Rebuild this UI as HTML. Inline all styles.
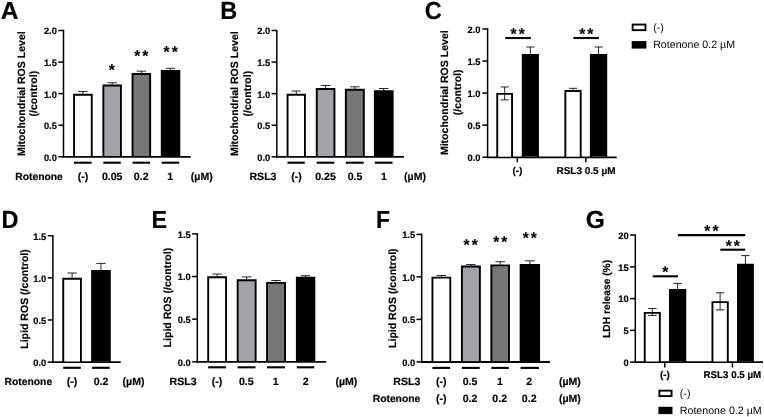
<!DOCTYPE html>
<html><head><meta charset="utf-8"><title>Figure</title>
<style>
html,body{margin:0;padding:0;background:#fff;}
svg{display:block;}
text{text-rendering:geometricPrecision;stroke:#000;stroke-width:0.18px;font-family:"Liberation Sans",sans-serif;fill:#000;}
</style></head><body>
<svg width="764" height="417" viewBox="0 0 764 417">
<rect width="764" height="417" fill="#fff"/>
<text transform="translate(0.80,18.60) scale(1.0,1.0)" font-size="24.6" font-weight="bold">A</text>
<text transform="translate(220.30,18.50) scale(0.955,1.01)" font-size="24.6" font-weight="bold">B</text>
<text transform="translate(424.80,18.50) scale(0.955,1.0)" font-size="24.6" font-weight="bold">C</text>
<text transform="translate(1.50,228.00) scale(0.955,1.01)" font-size="24.6" font-weight="bold">D</text>
<text transform="translate(151.60,228.30) scale(0.95,1.0)" font-size="24.6" font-weight="bold">E</text>
<text transform="translate(375.90,227.90) scale(0.93,1.0)" font-size="24.6" font-weight="bold">F</text>
<text transform="translate(585.70,227.70) scale(1.0,1.0)" font-size="24.6" font-weight="bold">G</text>
<line x1="63.50" y1="29.75" x2="63.50" y2="157.55" stroke="#000" stroke-width="1.5"/>
<line x1="62.75" y1="156.90" x2="190.70" y2="156.90" stroke="#000" stroke-width="1.8"/>
<line x1="58.30" y1="30.50" x2="63.50" y2="30.50" stroke="#000" stroke-width="1.5"/>
<text x="56.90" y="34.35" font-size="9.3" font-weight="bold" text-anchor="end">2.0</text>
<line x1="58.30" y1="62.08" x2="63.50" y2="62.08" stroke="#000" stroke-width="1.5"/>
<text x="56.90" y="65.92" font-size="9.3" font-weight="bold" text-anchor="end">1.5</text>
<line x1="58.30" y1="93.65" x2="63.50" y2="93.65" stroke="#000" stroke-width="1.5"/>
<text x="56.90" y="97.50" font-size="9.3" font-weight="bold" text-anchor="end">1.0</text>
<line x1="58.30" y1="125.23" x2="63.50" y2="125.23" stroke="#000" stroke-width="1.5"/>
<text x="56.90" y="129.07" font-size="9.3" font-weight="bold" text-anchor="end">0.5</text>
<line x1="58.30" y1="156.80" x2="63.50" y2="156.80" stroke="#000" stroke-width="1.5"/>
<text x="56.90" y="160.65" font-size="9.3" font-weight="bold" text-anchor="end">0.0</text>
<text transform="translate(25.20,93.70) rotate(-90)" font-size="10.55" font-weight="bold" text-anchor="middle">Mitochondrial ROS Level</text>
<text transform="translate(37.30,93.70) rotate(-90)" font-size="10.55" font-weight="bold" text-anchor="middle">(/control)</text>
<line x1="82.90" y1="91.49" x2="82.90" y2="94.79" stroke="#000" stroke-width="0.85"/>
<line x1="78.20" y1="91.49" x2="87.60" y2="91.49" stroke="#000" stroke-width="0.85"/>
<rect x="74.05" y="94.79" width="17.70" height="61.26" fill="#ffffff"/>
<path d="M74.05 156.80V94.79H91.75V156.80" fill="none" stroke="#000" stroke-width="1.9"/>
<line x1="74.00" y1="162.70" x2="91.60" y2="162.70" stroke="#000" stroke-width="2.1"/>
<line x1="112.15" y1="82.74" x2="112.15" y2="85.44" stroke="#000" stroke-width="0.85"/>
<line x1="107.47" y1="82.74" x2="116.83" y2="82.74" stroke="#000" stroke-width="0.85"/>
<rect x="103.35" y="85.44" width="17.60" height="70.61" fill="#a3a2a7"/>
<path d="M103.35 156.80V85.44H120.95V156.80" fill="none" stroke="#000" stroke-width="1.9"/>
<line x1="103.30" y1="162.70" x2="120.80" y2="162.70" stroke="#000" stroke-width="2.1"/>
<line x1="141.35" y1="71.17" x2="141.35" y2="74.07" stroke="#000" stroke-width="0.85"/>
<line x1="136.67" y1="71.17" x2="146.03" y2="71.17" stroke="#000" stroke-width="0.85"/>
<rect x="132.55" y="74.07" width="17.60" height="81.98" fill="#767676"/>
<path d="M132.55 156.80V74.07H150.15V156.80" fill="none" stroke="#000" stroke-width="1.9"/>
<line x1="132.50" y1="162.70" x2="150.00" y2="162.70" stroke="#000" stroke-width="2.1"/>
<line x1="170.55" y1="68.32" x2="170.55" y2="70.92" stroke="#000" stroke-width="0.85"/>
<line x1="165.87" y1="68.32" x2="175.23" y2="68.32" stroke="#000" stroke-width="0.85"/>
<rect x="161.75" y="70.92" width="17.60" height="85.13" fill="#000000"/>
<path d="M161.75 156.80V70.92H179.35V156.80" fill="none" stroke="#000" stroke-width="1.9"/>
<line x1="161.70" y1="162.70" x2="179.20" y2="162.70" stroke="#000" stroke-width="2.1"/>
<text x="111.75" y="74.62" font-size="15.5" font-weight="bold" text-anchor="middle">*</text>
<text x="142.31" y="60.62" font-size="15.5" font-weight="bold" text-anchor="middle" letter-spacing="2.12">**</text>
<text x="171.66" y="57.37" font-size="15.5" font-weight="bold" text-anchor="middle" letter-spacing="2.12">**</text>
<text x="15.20" y="179.50" font-size="10.339" font-weight="bold" text-anchor="start">Rotenone</text>
<text x="83.00" y="179.50" font-size="10.55" font-weight="bold" text-anchor="middle">(-)</text>
<text x="112.20" y="179.50" font-size="10.55" font-weight="bold" text-anchor="middle">0.05</text>
<text x="141.20" y="179.50" font-size="10.55" font-weight="bold" text-anchor="middle">0.2</text>
<text x="170.30" y="179.50" font-size="10.55" font-weight="bold" text-anchor="middle">1</text>
<text x="201.80" y="179.50" font-size="10.55" font-weight="bold" text-anchor="middle">(µM)</text>
<line x1="276.80" y1="29.75" x2="276.80" y2="157.55" stroke="#000" stroke-width="1.5"/>
<line x1="276.05" y1="156.90" x2="403.90" y2="156.90" stroke="#000" stroke-width="1.8"/>
<line x1="271.60" y1="30.50" x2="276.80" y2="30.50" stroke="#000" stroke-width="1.5"/>
<text x="270.20" y="34.35" font-size="9.3" font-weight="bold" text-anchor="end">2.0</text>
<line x1="271.60" y1="62.08" x2="276.80" y2="62.08" stroke="#000" stroke-width="1.5"/>
<text x="270.20" y="65.92" font-size="9.3" font-weight="bold" text-anchor="end">1.5</text>
<line x1="271.60" y1="93.65" x2="276.80" y2="93.65" stroke="#000" stroke-width="1.5"/>
<text x="270.20" y="97.50" font-size="9.3" font-weight="bold" text-anchor="end">1.0</text>
<line x1="271.60" y1="125.23" x2="276.80" y2="125.23" stroke="#000" stroke-width="1.5"/>
<text x="270.20" y="129.07" font-size="9.3" font-weight="bold" text-anchor="end">0.5</text>
<line x1="271.60" y1="156.80" x2="276.80" y2="156.80" stroke="#000" stroke-width="1.5"/>
<text x="270.20" y="160.65" font-size="9.3" font-weight="bold" text-anchor="end">0.0</text>
<text transform="translate(238.40,93.70) rotate(-90)" font-size="10.55" font-weight="bold" text-anchor="middle">Mitochondrial ROS Level</text>
<text transform="translate(250.50,93.70) rotate(-90)" font-size="10.55" font-weight="bold" text-anchor="middle">(/control)</text>
<line x1="296.25" y1="90.99" x2="296.25" y2="94.79" stroke="#000" stroke-width="0.85"/>
<line x1="291.62" y1="90.99" x2="300.88" y2="90.99" stroke="#000" stroke-width="0.85"/>
<rect x="287.55" y="94.79" width="17.40" height="61.26" fill="#ffffff"/>
<path d="M287.55 156.80V94.79H304.95V156.80" fill="none" stroke="#000" stroke-width="1.9"/>
<line x1="287.50" y1="162.70" x2="304.80" y2="162.70" stroke="#000" stroke-width="2.1"/>
<line x1="325.60" y1="85.50" x2="325.60" y2="88.95" stroke="#000" stroke-width="0.85"/>
<line x1="320.90" y1="85.50" x2="330.30" y2="85.50" stroke="#000" stroke-width="0.85"/>
<rect x="316.75" y="88.95" width="17.70" height="67.10" fill="#a3a2a7"/>
<path d="M316.75 156.80V88.95H334.45V156.80" fill="none" stroke="#000" stroke-width="1.9"/>
<line x1="316.70" y1="162.70" x2="334.30" y2="162.70" stroke="#000" stroke-width="2.1"/>
<line x1="354.85" y1="86.80" x2="354.85" y2="89.75" stroke="#000" stroke-width="0.85"/>
<line x1="350.07" y1="86.80" x2="359.63" y2="86.80" stroke="#000" stroke-width="0.85"/>
<rect x="345.85" y="89.75" width="18.00" height="66.30" fill="#767676"/>
<path d="M345.85 156.80V89.75H363.85V156.80" fill="none" stroke="#000" stroke-width="1.9"/>
<line x1="345.80" y1="162.70" x2="363.70" y2="162.70" stroke="#000" stroke-width="2.1"/>
<line x1="383.75" y1="88.50" x2="383.75" y2="91.15" stroke="#000" stroke-width="0.85"/>
<line x1="379.02" y1="88.50" x2="388.48" y2="88.50" stroke="#000" stroke-width="0.85"/>
<rect x="374.85" y="91.15" width="17.80" height="64.90" fill="#000000"/>
<path d="M374.85 156.80V91.15H392.65V156.80" fill="none" stroke="#000" stroke-width="1.9"/>
<line x1="374.80" y1="162.70" x2="392.50" y2="162.70" stroke="#000" stroke-width="2.1"/>
<text x="249.50" y="179.50" font-size="10.55" font-weight="bold" text-anchor="start">RSL3</text>
<text x="296.50" y="179.50" font-size="10.55" font-weight="bold" text-anchor="middle">(-)</text>
<text x="325.50" y="179.50" font-size="10.55" font-weight="bold" text-anchor="middle">0.25</text>
<text x="355.00" y="179.50" font-size="10.55" font-weight="bold" text-anchor="middle">0.5</text>
<text x="384.00" y="179.50" font-size="10.55" font-weight="bold" text-anchor="middle">1</text>
<text x="415.00" y="179.50" font-size="10.55" font-weight="bold" text-anchor="middle">(µM)</text>
<line x1="487.60" y1="28.25" x2="487.60" y2="157.95" stroke="#000" stroke-width="1.5"/>
<line x1="486.85" y1="157.30" x2="616.70" y2="157.30" stroke="#000" stroke-width="1.8"/>
<line x1="482.40" y1="29.00" x2="487.60" y2="29.00" stroke="#000" stroke-width="1.5"/>
<text x="480.50" y="33.00" font-size="9.3" font-weight="bold" text-anchor="end">2.0</text>
<line x1="482.40" y1="61.05" x2="487.60" y2="61.05" stroke="#000" stroke-width="1.5"/>
<text x="480.50" y="65.05" font-size="9.3" font-weight="bold" text-anchor="end">1.5</text>
<line x1="482.40" y1="93.10" x2="487.60" y2="93.10" stroke="#000" stroke-width="1.5"/>
<text x="480.50" y="97.10" font-size="9.3" font-weight="bold" text-anchor="end">1.0</text>
<line x1="482.40" y1="125.15" x2="487.60" y2="125.15" stroke="#000" stroke-width="1.5"/>
<text x="480.50" y="129.15" font-size="9.3" font-weight="bold" text-anchor="end">0.5</text>
<line x1="482.40" y1="157.20" x2="487.60" y2="157.20" stroke="#000" stroke-width="1.5"/>
<text x="480.50" y="161.20" font-size="9.3" font-weight="bold" text-anchor="end">0.0</text>
<text transform="translate(447.60,92.70) rotate(-90)" font-size="10.55" font-weight="bold" text-anchor="middle">Mitochondrial ROS Level</text>
<text transform="translate(461.30,92.30) rotate(-90)" font-size="10.55" font-weight="bold" text-anchor="middle">(/control)</text>
<line x1="504.65" y1="86.97" x2="504.65" y2="93.87" stroke="#000" stroke-width="0.85"/>
<line x1="500.64" y1="86.97" x2="508.66" y2="86.97" stroke="#000" stroke-width="0.85"/>
<rect x="497.25" y="93.87" width="14.80" height="62.58" fill="#ffffff"/>
<path d="M497.25 157.20V93.87H512.05V157.20" fill="none" stroke="#000" stroke-width="1.9"/>
<line x1="504.65" y1="93.87" x2="504.65" y2="99.87" stroke="#000" stroke-width="0.85"/>
<line x1="500.64" y1="99.87" x2="508.66" y2="99.87" stroke="#000" stroke-width="0.85"/>
<line x1="530.35" y1="47.00" x2="530.35" y2="54.90" stroke="#000" stroke-width="0.85"/>
<line x1="526.25" y1="47.00" x2="534.45" y2="47.00" stroke="#000" stroke-width="0.85"/>
<rect x="522.75" y="54.90" width="15.20" height="101.55" fill="#000000"/>
<path d="M522.75 157.20V54.90H537.95V157.20" fill="none" stroke="#000" stroke-width="1.9"/>
<line x1="573.02" y1="88.30" x2="573.02" y2="90.95" stroke="#000" stroke-width="0.85"/>
<line x1="568.88" y1="88.30" x2="577.16" y2="88.30" stroke="#000" stroke-width="0.85"/>
<rect x="565.35" y="90.95" width="15.35" height="65.50" fill="#ffffff"/>
<path d="M565.35 157.20V90.95H580.70V157.20" fill="none" stroke="#000" stroke-width="1.9"/>
<line x1="598.55" y1="47.00" x2="598.55" y2="54.90" stroke="#000" stroke-width="0.85"/>
<line x1="594.40" y1="47.00" x2="602.70" y2="47.00" stroke="#000" stroke-width="0.85"/>
<rect x="590.85" y="54.90" width="15.40" height="101.55" fill="#000000"/>
<path d="M590.85 157.20V54.90H606.25V157.20" fill="none" stroke="#000" stroke-width="1.9"/>
<line x1="505.30" y1="38.00" x2="530.80" y2="38.00" stroke="#000" stroke-width="2.1"/>
<text x="518.76" y="39.32" font-size="15.5" font-weight="bold" text-anchor="middle" letter-spacing="2.12">**</text>
<line x1="573.40" y1="38.00" x2="598.90" y2="38.00" stroke="#000" stroke-width="2.1"/>
<text x="587.36" y="39.32" font-size="15.5" font-weight="bold" text-anchor="middle" letter-spacing="2.12">**</text>
<line x1="517.30" y1="157.20" x2="517.30" y2="162.20" stroke="#000" stroke-width="1.5"/>
<line x1="585.80" y1="157.20" x2="585.80" y2="162.20" stroke="#000" stroke-width="1.5"/>
<text x="517.40" y="173.80" font-size="10" font-weight="bold" text-anchor="middle">(-)</text>
<text x="586.00" y="173.80" font-size="10" font-weight="bold" text-anchor="middle">RSL3 0.5 µM</text>
<rect x="632.65" y="24.55" width="12.80" height="5.60" fill="#fff" stroke="#000" stroke-width="1.9"/>
<rect x="631.70" y="41.10" width="14.70" height="7.50" fill="#000"/>
<text x="653.20" y="30.80" font-size="10.65" font-weight="normal" text-anchor="start" style="stroke:none">(-)</text>
<text x="653.20" y="48.30" font-size="10.65" font-weight="normal" text-anchor="start" style="stroke:none">Rotenone 0.2 µM</text>
<line x1="52.90" y1="234.95" x2="52.90" y2="362.85" stroke="#000" stroke-width="1.5"/>
<line x1="52.15" y1="362.20" x2="120.70" y2="362.20" stroke="#000" stroke-width="1.8"/>
<line x1="47.70" y1="235.73" x2="52.90" y2="235.73" stroke="#000" stroke-width="1.5"/>
<text x="46.30" y="239.57" font-size="9.3" font-weight="bold" text-anchor="end">1.5</text>
<line x1="47.70" y1="277.85" x2="52.90" y2="277.85" stroke="#000" stroke-width="1.5"/>
<text x="46.30" y="281.70" font-size="9.3" font-weight="bold" text-anchor="end">1.0</text>
<line x1="47.70" y1="319.98" x2="52.90" y2="319.98" stroke="#000" stroke-width="1.5"/>
<text x="46.30" y="323.82" font-size="9.3" font-weight="bold" text-anchor="end">0.5</text>
<line x1="47.70" y1="362.10" x2="52.90" y2="362.10" stroke="#000" stroke-width="1.5"/>
<text x="46.30" y="365.95" font-size="9.3" font-weight="bold" text-anchor="end">0.0</text>
<text transform="translate(28.00,299.00) rotate(-90)" font-size="10.55" font-weight="bold" text-anchor="middle">Lipid ROS (/control)</text>
<line x1="72.10" y1="273.00" x2="72.10" y2="278.75" stroke="#000" stroke-width="0.85"/>
<line x1="67.40" y1="273.00" x2="76.80" y2="273.00" stroke="#000" stroke-width="0.85"/>
<rect x="63.25" y="278.75" width="17.70" height="82.60" fill="#ffffff"/>
<path d="M63.25 362.10V278.75H80.95V362.10" fill="none" stroke="#000" stroke-width="1.9"/>
<line x1="63.20" y1="367.80" x2="80.80" y2="367.80" stroke="#000" stroke-width="2.1"/>
<line x1="100.95" y1="263.40" x2="100.95" y2="270.95" stroke="#000" stroke-width="0.85"/>
<line x1="96.22" y1="263.40" x2="105.68" y2="263.40" stroke="#000" stroke-width="0.85"/>
<rect x="92.05" y="270.95" width="17.80" height="90.40" fill="#000000"/>
<path d="M92.05 362.10V270.95H109.85V362.10" fill="none" stroke="#000" stroke-width="1.9"/>
<line x1="92.00" y1="367.80" x2="109.70" y2="367.80" stroke="#000" stroke-width="2.1"/>
<text x="4.50" y="385.00" font-size="10.339" font-weight="bold" text-anchor="start">Rotenone</text>
<text x="72.00" y="385.00" font-size="10.55" font-weight="bold" text-anchor="middle">(-)</text>
<text x="101.00" y="385.00" font-size="10.55" font-weight="bold" text-anchor="middle">0.2</text>
<text x="133.50" y="385.00" font-size="10.55" font-weight="bold" text-anchor="middle">(µM)</text>
<line x1="197.30" y1="233.10" x2="197.30" y2="362.55" stroke="#000" stroke-width="1.5"/>
<line x1="196.55" y1="361.90" x2="326.20" y2="361.90" stroke="#000" stroke-width="1.8"/>
<line x1="192.10" y1="233.85" x2="197.30" y2="233.85" stroke="#000" stroke-width="1.5"/>
<text x="190.70" y="237.70" font-size="9.3" font-weight="bold" text-anchor="end">1.5</text>
<line x1="192.10" y1="276.50" x2="197.30" y2="276.50" stroke="#000" stroke-width="1.5"/>
<text x="190.70" y="280.35" font-size="9.3" font-weight="bold" text-anchor="end">1.0</text>
<line x1="192.10" y1="319.15" x2="197.30" y2="319.15" stroke="#000" stroke-width="1.5"/>
<text x="190.70" y="323.00" font-size="9.3" font-weight="bold" text-anchor="end">0.5</text>
<line x1="192.10" y1="361.80" x2="197.30" y2="361.80" stroke="#000" stroke-width="1.5"/>
<text x="190.70" y="365.65" font-size="9.3" font-weight="bold" text-anchor="end">0.0</text>
<text transform="translate(171.00,297.60) rotate(-90)" font-size="10.55" font-weight="bold" text-anchor="middle">Lipid ROS (/control)</text>
<line x1="217.12" y1="274.05" x2="217.12" y2="277.25" stroke="#000" stroke-width="0.85"/>
<line x1="212.38" y1="274.05" x2="221.87" y2="274.05" stroke="#000" stroke-width="0.85"/>
<rect x="208.20" y="277.25" width="17.85" height="83.80" fill="#ffffff"/>
<path d="M208.20 361.80V277.25H226.05V361.80" fill="none" stroke="#000" stroke-width="1.9"/>
<line x1="208.15" y1="367.30" x2="225.90" y2="367.30" stroke="#000" stroke-width="2.1"/>
<line x1="246.65" y1="276.95" x2="246.65" y2="280.25" stroke="#000" stroke-width="0.85"/>
<line x1="241.87" y1="276.95" x2="251.43" y2="276.95" stroke="#000" stroke-width="0.85"/>
<rect x="237.65" y="280.25" width="18.00" height="80.80" fill="#a3a2a7"/>
<path d="M237.65 361.80V280.25H255.65V361.80" fill="none" stroke="#000" stroke-width="1.9"/>
<line x1="237.60" y1="367.30" x2="255.50" y2="367.30" stroke="#000" stroke-width="2.1"/>
<line x1="276.05" y1="280.50" x2="276.05" y2="282.85" stroke="#000" stroke-width="0.85"/>
<line x1="271.27" y1="280.50" x2="280.83" y2="280.50" stroke="#000" stroke-width="0.85"/>
<rect x="267.05" y="282.85" width="18.00" height="78.20" fill="#767676"/>
<path d="M267.05 361.80V282.85H285.05V361.80" fill="none" stroke="#000" stroke-width="1.9"/>
<line x1="267.00" y1="367.30" x2="284.90" y2="367.30" stroke="#000" stroke-width="2.1"/>
<line x1="305.60" y1="275.75" x2="305.60" y2="277.75" stroke="#000" stroke-width="0.85"/>
<line x1="300.94" y1="275.75" x2="310.26" y2="275.75" stroke="#000" stroke-width="0.85"/>
<rect x="296.85" y="277.75" width="17.50" height="83.30" fill="#000000"/>
<path d="M296.85 361.80V277.75H314.35V361.80" fill="none" stroke="#000" stroke-width="1.9"/>
<line x1="296.80" y1="367.30" x2="314.20" y2="367.30" stroke="#000" stroke-width="2.1"/>
<text x="169.60" y="384.50" font-size="10.55" font-weight="bold" text-anchor="start">RSL3</text>
<text x="217.10" y="384.50" font-size="10.55" font-weight="bold" text-anchor="middle">(-)</text>
<text x="246.30" y="384.50" font-size="10.55" font-weight="bold" text-anchor="middle">0.5</text>
<text x="275.70" y="384.50" font-size="10.55" font-weight="bold" text-anchor="middle">1</text>
<text x="305.80" y="384.50" font-size="10.55" font-weight="bold" text-anchor="middle">2</text>
<text x="346.40" y="384.50" font-size="10.55" font-weight="bold" text-anchor="middle">(µM)</text>
<line x1="421.70" y1="233.65" x2="421.70" y2="362.65" stroke="#000" stroke-width="1.5"/>
<line x1="420.95" y1="362.00" x2="549.90" y2="362.00" stroke="#000" stroke-width="1.8"/>
<line x1="416.50" y1="234.40" x2="421.70" y2="234.40" stroke="#000" stroke-width="1.5"/>
<text x="415.10" y="238.25" font-size="9.3" font-weight="bold" text-anchor="end">1.5</text>
<line x1="416.50" y1="276.90" x2="421.70" y2="276.90" stroke="#000" stroke-width="1.5"/>
<text x="415.10" y="280.75" font-size="9.3" font-weight="bold" text-anchor="end">1.0</text>
<line x1="416.50" y1="319.40" x2="421.70" y2="319.40" stroke="#000" stroke-width="1.5"/>
<text x="415.10" y="323.25" font-size="9.3" font-weight="bold" text-anchor="end">0.5</text>
<line x1="416.50" y1="361.90" x2="421.70" y2="361.90" stroke="#000" stroke-width="1.5"/>
<text x="415.10" y="365.75" font-size="9.3" font-weight="bold" text-anchor="end">0.0</text>
<text transform="translate(396.20,298.20) rotate(-90)" font-size="10.55" font-weight="bold" text-anchor="middle">Lipid ROS (/control)</text>
<line x1="441.38" y1="275.50" x2="441.38" y2="277.65" stroke="#000" stroke-width="0.85"/>
<line x1="436.63" y1="275.50" x2="446.12" y2="275.50" stroke="#000" stroke-width="0.85"/>
<rect x="432.45" y="277.65" width="17.85" height="83.50" fill="#ffffff"/>
<path d="M432.45 361.90V277.65H450.30V361.90" fill="none" stroke="#000" stroke-width="1.9"/>
<line x1="432.40" y1="367.90" x2="450.15" y2="367.90" stroke="#000" stroke-width="2.1"/>
<line x1="470.90" y1="264.60" x2="470.90" y2="266.55" stroke="#000" stroke-width="0.85"/>
<line x1="466.12" y1="264.60" x2="475.68" y2="264.60" stroke="#000" stroke-width="0.85"/>
<rect x="461.90" y="266.55" width="18.00" height="94.60" fill="#a3a2a7"/>
<path d="M461.90 361.90V266.55H479.90V361.90" fill="none" stroke="#000" stroke-width="1.9"/>
<line x1="461.85" y1="367.90" x2="479.75" y2="367.90" stroke="#000" stroke-width="2.1"/>
<line x1="500.17" y1="261.70" x2="500.17" y2="265.40" stroke="#000" stroke-width="0.85"/>
<line x1="495.48" y1="261.70" x2="504.87" y2="261.70" stroke="#000" stroke-width="0.85"/>
<rect x="491.35" y="265.40" width="17.65" height="95.75" fill="#767676"/>
<path d="M491.35 361.90V265.40H509.00V361.90" fill="none" stroke="#000" stroke-width="1.9"/>
<line x1="491.30" y1="367.90" x2="508.85" y2="367.90" stroke="#000" stroke-width="2.1"/>
<line x1="529.85" y1="260.85" x2="529.85" y2="264.85" stroke="#000" stroke-width="0.85"/>
<line x1="524.95" y1="260.85" x2="534.75" y2="260.85" stroke="#000" stroke-width="0.85"/>
<rect x="520.60" y="264.85" width="18.50" height="96.30" fill="#000000"/>
<path d="M520.60 361.90V264.85H539.10V361.90" fill="none" stroke="#000" stroke-width="1.9"/>
<line x1="520.55" y1="367.90" x2="538.95" y2="367.90" stroke="#000" stroke-width="2.1"/>
<text x="471.76" y="249.82" font-size="15.5" font-weight="bold" text-anchor="middle" letter-spacing="2.12">**</text>
<text x="501.31" y="246.92" font-size="15.5" font-weight="bold" text-anchor="middle" letter-spacing="2.12">**</text>
<text x="530.86" y="243.22" font-size="15.5" font-weight="bold" text-anchor="middle" letter-spacing="2.12">**</text>
<text x="420.30" y="384.80" font-size="10.55" font-weight="bold" text-anchor="end">RSL3</text>
<text x="420.30" y="402.30" font-size="10.339" font-weight="bold" text-anchor="end">Rotenone</text>
<text x="441.30" y="384.80" font-size="10.55" font-weight="bold" text-anchor="middle">(-)</text>
<text x="470.10" y="384.80" font-size="10.55" font-weight="bold" text-anchor="middle">0.5</text>
<text x="499.90" y="384.80" font-size="10.55" font-weight="bold" text-anchor="middle">1</text>
<text x="529.20" y="384.80" font-size="10.55" font-weight="bold" text-anchor="middle">2</text>
<text x="569.90" y="384.80" font-size="10.55" font-weight="bold" text-anchor="middle">(µM)</text>
<text x="441.30" y="402.30" font-size="10.55" font-weight="bold" text-anchor="middle">(-)</text>
<text x="470.10" y="402.30" font-size="10.55" font-weight="bold" text-anchor="middle">0.2</text>
<text x="499.70" y="402.30" font-size="10.55" font-weight="bold" text-anchor="middle">0.2</text>
<text x="529.20" y="402.30" font-size="10.55" font-weight="bold" text-anchor="middle">0.2</text>
<text x="569.90" y="402.30" font-size="10.55" font-weight="bold" text-anchor="middle">(µM)</text>
<line x1="635.30" y1="234.35" x2="635.30" y2="362.85" stroke="#000" stroke-width="1.5"/>
<line x1="634.55" y1="362.20" x2="763.00" y2="362.20" stroke="#000" stroke-width="1.8"/>
<line x1="630.10" y1="235.10" x2="635.30" y2="235.10" stroke="#000" stroke-width="1.5"/>
<text x="628.70" y="238.95" font-size="9.3" font-weight="bold" text-anchor="end">20</text>
<line x1="630.10" y1="266.85" x2="635.30" y2="266.85" stroke="#000" stroke-width="1.5"/>
<text x="628.70" y="270.70" font-size="9.3" font-weight="bold" text-anchor="end">15</text>
<line x1="630.10" y1="298.60" x2="635.30" y2="298.60" stroke="#000" stroke-width="1.5"/>
<text x="628.70" y="302.45" font-size="9.3" font-weight="bold" text-anchor="end">10</text>
<line x1="630.10" y1="330.35" x2="635.30" y2="330.35" stroke="#000" stroke-width="1.5"/>
<text x="628.70" y="334.20" font-size="9.3" font-weight="bold" text-anchor="end">5</text>
<line x1="630.10" y1="362.10" x2="635.30" y2="362.10" stroke="#000" stroke-width="1.5"/>
<text x="628.70" y="365.95" font-size="9.3" font-weight="bold" text-anchor="end">0</text>
<text transform="translate(609.50,298.90) rotate(-90)" font-size="10.25" font-weight="bold" text-anchor="middle">LDH release (%)</text>
<line x1="652.30" y1="308.50" x2="652.30" y2="312.90" stroke="#000" stroke-width="0.85"/>
<line x1="648.05" y1="308.50" x2="656.55" y2="308.50" stroke="#000" stroke-width="0.85"/>
<rect x="644.75" y="312.90" width="15.10" height="48.45" fill="#ffffff"/>
<path d="M644.75 362.10V312.90H659.85V362.10" fill="none" stroke="#000" stroke-width="1.9"/>
<line x1="652.30" y1="312.90" x2="652.30" y2="315.45" stroke="#000" stroke-width="0.85"/>
<line x1="648.05" y1="315.45" x2="656.55" y2="315.45" stroke="#000" stroke-width="0.85"/>
<line x1="677.60" y1="283.40" x2="677.60" y2="290.00" stroke="#000" stroke-width="0.85"/>
<line x1="673.35" y1="283.40" x2="681.85" y2="283.40" stroke="#000" stroke-width="0.85"/>
<rect x="669.90" y="290.00" width="15.40" height="71.35" fill="#000000"/>
<path d="M669.90 362.10V290.00H685.30V362.10" fill="none" stroke="#000" stroke-width="1.9"/>
<line x1="720.12" y1="292.80" x2="720.12" y2="302.15" stroke="#000" stroke-width="0.85"/>
<line x1="715.88" y1="292.80" x2="724.38" y2="292.80" stroke="#000" stroke-width="0.85"/>
<rect x="712.45" y="302.15" width="15.35" height="59.20" fill="#ffffff"/>
<path d="M712.45 362.10V302.15H727.80V362.10" fill="none" stroke="#000" stroke-width="1.9"/>
<line x1="720.12" y1="302.15" x2="720.12" y2="309.85" stroke="#000" stroke-width="0.85"/>
<line x1="715.88" y1="309.85" x2="724.38" y2="309.85" stroke="#000" stroke-width="0.85"/>
<line x1="745.42" y1="255.60" x2="745.42" y2="264.60" stroke="#000" stroke-width="0.85"/>
<line x1="741.17" y1="255.60" x2="749.67" y2="255.60" stroke="#000" stroke-width="0.85"/>
<rect x="737.95" y="264.60" width="14.95" height="96.75" fill="#000000"/>
<path d="M737.95 362.10V264.60H752.90V362.10" fill="none" stroke="#000" stroke-width="1.9"/>
<line x1="652.70" y1="276.30" x2="677.90" y2="276.30" stroke="#000" stroke-width="2.1"/>
<text x="665.20" y="276.92" font-size="15.5" font-weight="bold" text-anchor="middle">*</text>
<line x1="720.30" y1="249.70" x2="745.20" y2="249.70" stroke="#000" stroke-width="2.1"/>
<text x="733.86" y="250.52" font-size="15.5" font-weight="bold" text-anchor="middle" letter-spacing="2.12">**</text>
<line x1="677.90" y1="235.10" x2="745.20" y2="235.10" stroke="#000" stroke-width="2.1"/>
<text x="712.51" y="235.97" font-size="15.5" font-weight="bold" text-anchor="middle" letter-spacing="2.12">**</text>
<line x1="664.80" y1="362.10" x2="664.80" y2="367.40" stroke="#000" stroke-width="1.5"/>
<line x1="732.40" y1="362.10" x2="732.40" y2="367.40" stroke="#000" stroke-width="1.5"/>
<text x="664.90" y="377.70" font-size="10" font-weight="bold" text-anchor="middle">(-)</text>
<text x="732.40" y="377.70" font-size="9.75" font-weight="bold" text-anchor="middle">RSL3 0.5 µM</text>
<rect x="659.35" y="390.65" width="12.20" height="5.40" fill="#fff" stroke="#000" stroke-width="1.9"/>
<rect x="658.40" y="406.80" width="14.10" height="7.30" fill="#000"/>
<text x="679.80" y="396.50" font-size="10.65" font-weight="normal" text-anchor="start" style="stroke:none">(-)</text>
<text x="679.80" y="413.70" font-size="10.65" font-weight="normal" text-anchor="start" style="stroke:none">Rotenone 0.2 µM</text>
</svg></body></html>
